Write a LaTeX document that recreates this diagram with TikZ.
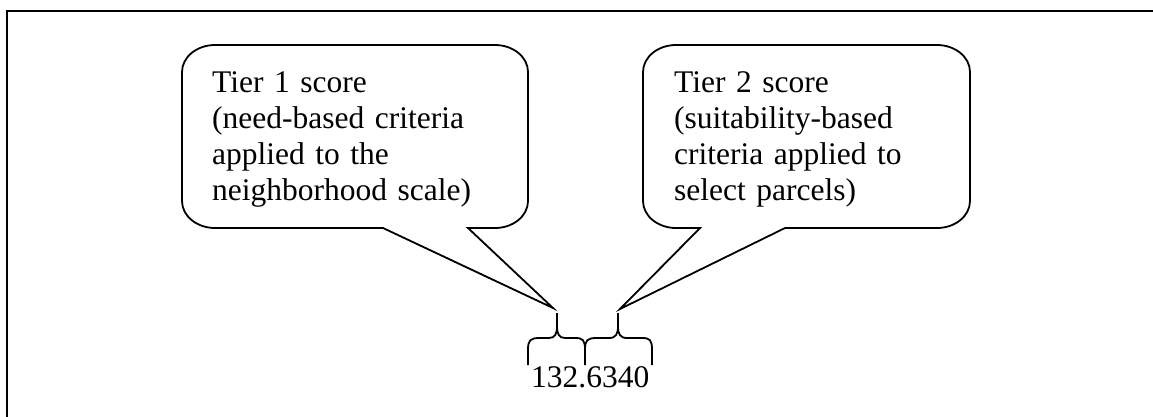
\documentclass[tikz,border=0pt]{standalone}
\usepackage{fontspec}
\setmainfont{Liberation Serif}
\begin{document}
\begin{tikzpicture}[x=1pt,y=-1pt,
  frame/.style={line width=2.2pt},
  bubble/.style={line width=1.8pt, line join=miter},
  bracepath/.style={line width=1.8pt},
  bubbletext/.style={anchor=base west, inner sep=0pt, text width=340pt, align=left,
     font=\fontsize{31.5}{36}\selectfont},
  numtext/.style={anchor=base west, inner sep=0pt, font=\fontsize{31.5}{36}\selectfont}]
\useasboundingbox (0,0) rectangle (1153,416);
% outer frame (only left and top edges visible)
\draw[frame] (7,440) -- (7,11) -- (1180,11);
% braces
\coordinate (b1) at (557,313);
\coordinate (b2) at (618,313);
\draw[bracepath] (528,365) -- (528,350) .. controls (528,340) and (530,338) .. (540,338)
  -- (549,338) .. controls (555,338) and (557,334) .. (557,326) -- (b1);
\draw[bracepath] (557,326) .. controls (557,334) and (559,338) .. (565,338)
  -- (575,338) .. controls (583,338) and (585,340) .. (585,350) -- (585,365);
\draw[bracepath] (585,350) .. controls (585,340) and (587,338) .. (597,338)
  -- (609,338) .. controls (616,338) and (618,334) .. (618,326) -- (b2);
\draw[bracepath] (618,326) .. controls (618,334) and (620,338) .. (627,338)
  -- (642,338) .. controls (650,338) and (652,340) .. (652,350) -- (652,365);
% callout 1
\coordinate (t1) at (553,308);
\draw[bubble] (383,228) -- (t1) -- (468,228) -- (495,228)
  arc[start angle=90, end angle=0, x radius=33, y radius=27] -- (528,72)
  arc[start angle=0, end angle=-90, x radius=33, y radius=27] -- (215,45)
  arc[start angle=-90, end angle=-180, x radius=33, y radius=27] -- (182,201)
  arc[start angle=180, end angle=90, x radius=33, y radius=27] -- cycle;
% callout 2
\coordinate (t2) at (620,309);
\draw[bubble] (785,228) -- (t2) -- (700,228) -- (676,228)
  arc[start angle=90, end angle=180, x radius=33, y radius=27] -- (643,72)
  arc[start angle=180, end angle=270, x radius=33, y radius=27] -- (937,45)
  arc[start angle=270, end angle=360, x radius=33, y radius=27] -- (970,201)
  arc[start angle=0, end angle=90, x radius=33, y radius=27] -- cycle;
% texts
\node[bubbletext] (tier1) at (212,92) {Tier 1 score\\(need-based criteria\\applied to the\\neighborhood scale)};
\node[bubbletext] (tier2) at (674,92) {Tier 2 score\\(suitability-based\\criteria applied to\\select parcels)};
\node[numtext] (num) at (531,387) {132.6340};
\end{tikzpicture}
\end{document}
